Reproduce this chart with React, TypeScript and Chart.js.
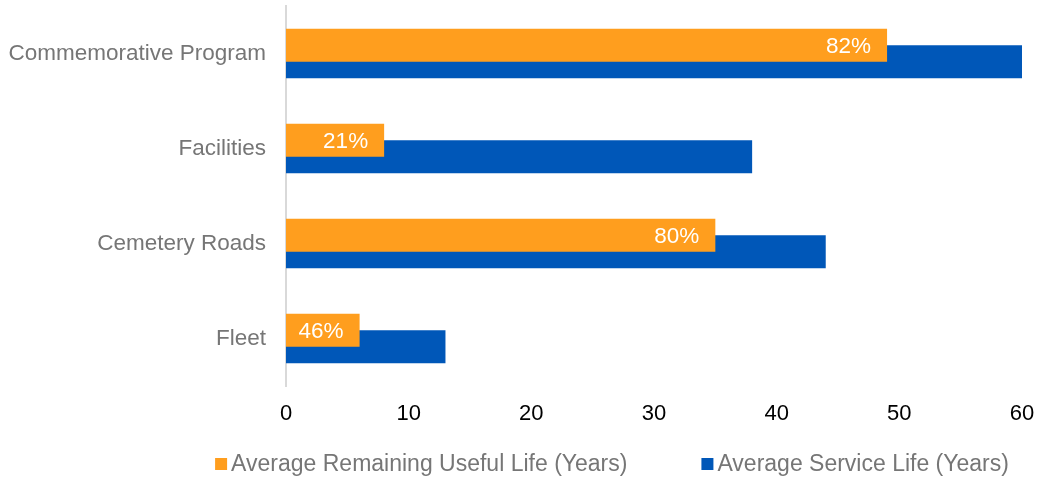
import React, { useEffect, useRef } from "react";
import { Chart, registerables } from "chart.js";

Chart.register(...registerables);

const categories = ["Commemorative Program", "Facilities", "Cemetery Roads", "Fleet"];
const remainingLife = [49, 8, 35, 6];
const serviceLife = [60, 38, 44, 13];
const percentLabels = ["82%", "21%", "80%", "46%"];
const seriesNames = ["Average Remaining Useful Life (Years)", "Average Service Life (Years)"];
const xTicks = [0, 10, 20, 30, 40, 50, 60];

const ORANGE = "#FF9E1E";
const BLUE = "#0057B8";
const FONT = "'Liberation Sans', Arial, sans-serif";
const TEXT_GRAY = "#767676";

const labelPlugin = {
  id: "endLabels",
  afterDatasetsDraw(chart: any) {
    const meta = chart.getDatasetMeta(0);
    const ctx = chart.ctx;
    ctx.save();
    ctx.fillStyle = "#FFFFFF";
    ctx.font = `22.5px ${FONT}`;
    ctx.textAlign = "right";
    ctx.textBaseline = "middle";
    meta.data.forEach((bar: any, i: number) => {
      ctx.fillText(percentLabels[i], bar.x - 16, bar.y + 2);
    });
    ctx.restore();
  },
};

const legendPlugin = {
  id: "customLegend",
  afterDraw(chart: any) {
    const ctx = chart.ctx;
    const colors = [ORANGE, BLUE];
    const box = 12;
    const gapText = 4;
    const gapItems = 74;
    ctx.save();
    ctx.font = `23px ${FONT}`;
    ctx.textBaseline = "middle";
    ctx.textAlign = "left";
    const widths = seriesNames.map((n) => box + gapText + ctx.measureText(n).width);
    const total = widths.reduce((a, b) => a + b, 0) + gapItems * (seriesNames.length - 1);
    const centerX = 612;
    const y = 464;
    let x = centerX - total / 2;
    seriesNames.forEach((n, i) => {
      ctx.fillStyle = colors[i];
      ctx.fillRect(x, y - box / 2, box, box);
      ctx.fillStyle = TEXT_GRAY;
      ctx.fillText(n, x + box + gapText, y + 1);
      x += widths[i] + gapItems;
    });
    ctx.restore();
  },
};

export default function App() {
  const ref = useRef<HTMLCanvasElement>(null);
  useEffect(() => {
    document.body.style.margin = "0";
    const chart = new Chart(ref.current!, {
      type: "bar",
      data: {
        labels: categories,
        datasets: [
          {
            label: seriesNames[0],
            data: remainingLife,
            backgroundColor: ORANGE,
            categoryPercentage: 0.347,
            barPercentage: 2,
          },
          {
            label: seriesNames[1],
            data: serviceLife,
            backgroundColor: BLUE,
            categoryPercentage: 0.347,
            barPercentage: 2,
          },
        ],
      },
      options: {
        indexAxis: "y",
        animation: false,
        responsive: true,
        maintainAspectRatio: false,
        layout: { padding: { top: 6, right: 15, left: 0, bottom: 40 } },
        scales: {
          x: {
            min: 0,
            max: 60,
            afterBuildTicks: (s: any) => {
              s.ticks = xTicks.map((v) => ({ value: v }));
            },
            grid: { display: false, drawTicks: false },
            border: { display: false },
            ticks: { color: "#000000", font: { size: 22, family: FONT }, padding: 15, maxRotation: 0 },
            afterFit: (s: any) => {
              s.height = 54;
              s.paddingLeft = 0;
              s.paddingRight = 0;
            },
          },
          y: {
            grid: { display: false, drawTicks: false },
            border: { display: true, color: "#D9D9D9", width: 2 },
            ticks: { color: TEXT_GRAY, font: { size: 22.5, family: FONT }, padding: 20 },
            afterFit: (s: any) => {
              s.width = 286;
              s.paddingTop = 0;
              s.paddingBottom = 0;
            },
          },
        },
        plugins: {
          legend: { display: false },
          tooltip: { enabled: false },
        },
      },
      plugins: [labelPlugin, legendPlugin],
    });
    return () => chart.destroy();
  }, []);
  return (
    <div style={{ width: 1037, height: 480, position: "relative" }}>
      <canvas ref={ref} />
    </div>
  );
}
